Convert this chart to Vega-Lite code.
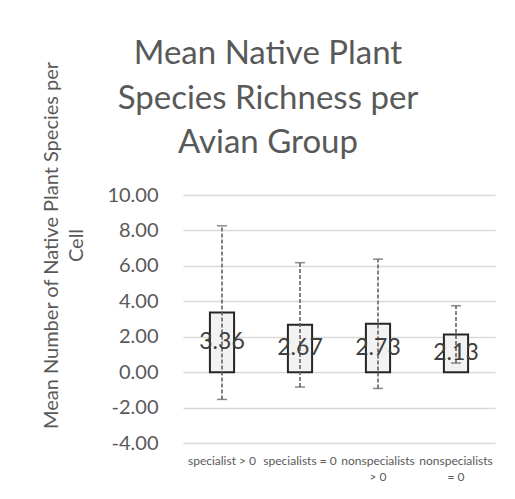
{
  "$schema": "https://vega.github.io/schema/vega-lite/v6.json",
  "autosize": "none",
  "width": 312,
  "height": 248,
  "padding": {"left": 183, "top": 195, "right": 20, "bottom": 56},
  "background": "white",
  "title": {
    "text": ["Mean Native Plant", "Species Richness per", "Avian Group"],
    "font": "Lato",
    "fontSize": 33,
    "fontWeight": "normal",
    "color": "#595959",
    "lineHeight": 44.5,
    "anchor": "middle",
    "frame": "group",
    "dx": -71,
    "offset": -102
  },
  "data": {
    "values": [
      {"group": "specialist > 0", "mean": 3.36, "lo": -1.54, "hi": 8.26},
      {"group": "specialists = 0", "mean": 2.67, "lo": -0.84, "hi": 6.18},
      {"group": "nonspecialists > 0", "mean": 2.73, "lo": -0.92, "hi": 6.38},
      {"group": "nonspecialists = 0", "mean": 2.13, "lo": 0.51, "hi": 3.75}
    ]
  },
  "encoding": {
    "x": {
      "field": "group",
      "type": "nominal",
      "sort": null,
      "scale": {"paddingInner": 0.69, "paddingOuter": 0.345},
      "axis": {
        "title": null,
        "labelAngle": 0,
        "labelFont": "Lato",
        "labelFontSize": 12,
        "labelColor": "#595959",
        "labelPadding": 12,
        "labelLineHeight": 16,
        "labelOverlap": false,
        "labelExpr": "indexof(datum.label, 'nonspecialists') == 0 ? ['nonspecialists', substring(datum.label, 15)] : datum.label",
        "domain": false,
        "ticks": false,
        "grid": false,
        "orient": "bottom"
      }
    }
  },
  "layer": [
    {
      "mark": {"type": "bar", "fill": "#f2f2f2", "stroke": "#262626", "strokeWidth": 2},
      "encoding": {
        "y": {
          "field": "mean",
          "type": "quantitative",
          "scale": {"domain": [-4, 10], "nice": false, "zero": false},
          "axis": {
            "values": [-4, -2, 0, 2, 4, 6, 8, 10],
            "labelExpr": "(datum.value < 0 ? '-' : '') + format(abs(datum.value), '.2f')",
            "labelOverlap": false,
            "title": ["Mean Number of  Native Plant Species per", "Cell"],
            "titleFont": "Lato",
            "titleFontSize": 20,
            "titleFontWeight": "normal",
            "titleColor": "#595959",
            "titleLineHeight": 25,
            "titleAngle": -90,
            "titleX": -132,
            "titleY": 50,
            "titleAlign": "center",
            "titleBaseline": "middle",
            "labelFont": "Lato",
            "labelFontSize": 20,
            "labelColor": "#595959",
            "labelPadding": 25,
            "domain": false,
            "ticks": false,
            "grid": true,
            "gridColor": "#d9d9d9",
            "gridWidth": 1.5
          }
        },
        "y2": {"datum": 0}
      }
    },
    {
      "mark": {"type": "rule", "stroke": "#595959", "strokeWidth": 1.5, "strokeDash": [4, 2]},
      "encoding": {
        "y": {
          "field": "lo",
          "type": "quantitative",
          "axis": {
            "values": [-4, -2, 0, 2, 4, 6, 8, 10],
            "labelExpr": "(datum.value < 0 ? '-' : '') + format(abs(datum.value), '.2f')",
            "labelOverlap": false,
            "title": ["Mean Number of  Native Plant Species per", "Cell"],
            "titleFont": "Lato",
            "titleFontSize": 20,
            "titleFontWeight": "normal",
            "titleColor": "#595959",
            "titleLineHeight": 25,
            "titleAngle": -90,
            "titleX": -132,
            "titleY": 50,
            "titleAlign": "center",
            "titleBaseline": "middle",
            "labelFont": "Lato",
            "labelFontSize": 20,
            "labelColor": "#595959",
            "labelPadding": 25,
            "domain": false,
            "ticks": false,
            "grid": true,
            "gridColor": "#d9d9d9",
            "gridWidth": 1.5
          }
        },
        "y2": {"field": "hi"}
      }
    },
    {
      "mark": {"type": "tick", "color": "#595959", "thickness": 1.5, "size": 10, "orient": "horizontal"},
      "encoding": {
        "y": {
          "field": "hi",
          "type": "quantitative",
          "axis": {
            "values": [-4, -2, 0, 2, 4, 6, 8, 10],
            "labelExpr": "(datum.value < 0 ? '-' : '') + format(abs(datum.value), '.2f')",
            "labelOverlap": false,
            "title": ["Mean Number of  Native Plant Species per", "Cell"],
            "titleFont": "Lato",
            "titleFontSize": 20,
            "titleFontWeight": "normal",
            "titleColor": "#595959",
            "titleLineHeight": 25,
            "titleAngle": -90,
            "titleX": -132,
            "titleY": 50,
            "titleAlign": "center",
            "titleBaseline": "middle",
            "labelFont": "Lato",
            "labelFontSize": 20,
            "labelColor": "#595959",
            "labelPadding": 25,
            "domain": false,
            "ticks": false,
            "grid": true,
            "gridColor": "#d9d9d9",
            "gridWidth": 1.5
          }
        }
      }
    },
    {
      "mark": {"type": "tick", "color": "#595959", "thickness": 1.5, "size": 10, "orient": "horizontal"},
      "encoding": {
        "y": {
          "field": "lo",
          "type": "quantitative",
          "axis": {
            "values": [-4, -2, 0, 2, 4, 6, 8, 10],
            "labelExpr": "(datum.value < 0 ? '-' : '') + format(abs(datum.value), '.2f')",
            "labelOverlap": false,
            "title": ["Mean Number of  Native Plant Species per", "Cell"],
            "titleFont": "Lato",
            "titleFontSize": 20,
            "titleFontWeight": "normal",
            "titleColor": "#595959",
            "titleLineHeight": 25,
            "titleAngle": -90,
            "titleX": -132,
            "titleY": 50,
            "titleAlign": "center",
            "titleBaseline": "middle",
            "labelFont": "Lato",
            "labelFontSize": 20,
            "labelColor": "#595959",
            "labelPadding": 25,
            "domain": false,
            "ticks": false,
            "grid": true,
            "gridColor": "#d9d9d9",
            "gridWidth": 1.5
          }
        }
      }
    },
    {
      "transform": [{"calculate": "datum.mean / 2", "as": "mid"}],
      "mark": {"type": "text", "font": "Lato", "fontSize": 23, "color": "#404040", "baseline": "middle"},
      "encoding": {
        "y": {
          "field": "mid",
          "type": "quantitative",
          "axis": {
            "values": [-4, -2, 0, 2, 4, 6, 8, 10],
            "labelExpr": "(datum.value < 0 ? '-' : '') + format(abs(datum.value), '.2f')",
            "labelOverlap": false,
            "title": ["Mean Number of  Native Plant Species per", "Cell"],
            "titleFont": "Lato",
            "titleFontSize": 20,
            "titleFontWeight": "normal",
            "titleColor": "#595959",
            "titleLineHeight": 25,
            "titleAngle": -90,
            "titleX": -132,
            "titleY": 50,
            "titleAlign": "center",
            "titleBaseline": "middle",
            "labelFont": "Lato",
            "labelFontSize": 20,
            "labelColor": "#595959",
            "labelPadding": 25,
            "domain": false,
            "ticks": false,
            "grid": true,
            "gridColor": "#d9d9d9",
            "gridWidth": 1.5
          }
        },
        "text": {"field": "mean", "type": "quantitative", "format": ".2f"}
      }
    }
  ],
  "config": {"view": {"stroke": null}}
}
